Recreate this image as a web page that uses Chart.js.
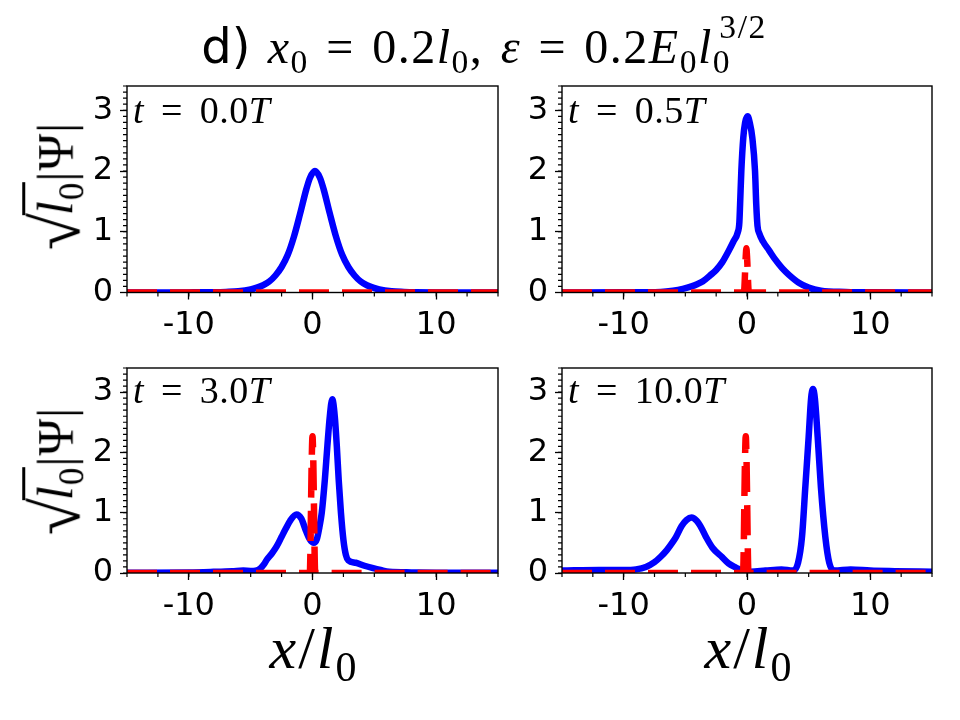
<!DOCTYPE html>
<html>
<head>
<meta charset="utf-8">
<script src="https://cdn.jsdelivr.net/npm/chart.js@4.4.0/dist/chart.umd.min.js"></script>
<style>
body { margin: 0; background: #fff; }
#wrap { position: relative; width: 960px; height: 720px; overflow: hidden; background: #fff; }
#wrap canvas { position: absolute; left: 0; top: 0; }
.m { position: absolute; font-family: "Liberation Serif", serif; color: #000; white-space: nowrap; line-height: 1; }
.m i { font-style: italic; }
.m sub, .m sup { font-size: 0.7em; vertical-align: baseline; position: relative; line-height: 0; }
.m sub { top: 0.3em; }
.m sup { top: -0.75em; }
.sf { font-family: "DejaVu Sans", sans-serif; letter-spacing: 0; }
#title { left: 0; width: 968px; text-align: center; top: 22px; font-size: 48px; letter-spacing: 1.5px; word-spacing: 0.08em; }
.ann { font-size: 38px; letter-spacing: 0.5px; word-spacing: 0.18em; }
.xlab { font-size: 60px; letter-spacing: 2px; transform: translateX(-50%); top: 618px; }
.ylab { font-size: 50px; letter-spacing: 1px; transform: translate(-50%, -50%) rotate(-90deg); }
.rad { font-size: 1.35em; position: relative; top: 0.1em; letter-spacing: 0; }
.ov { border-top: 3px solid #000; padding-top: 2px; margin-left: -2px; }
</style>
</head>
<body>
<div id="wrap">
  <canvas id="c0" width="960" height="720"></canvas>
  <canvas id="c1" width="960" height="720"></canvas>
  <canvas id="c2" width="960" height="720"></canvas>
  <canvas id="c3" width="960" height="720"></canvas>

  <div id="title" class="m"><span class="sf">d)</span> <i>x</i><sub>0</sub> = 0.2<i>l</i><sub>0</sub>, <i>ε</i> = 0.2<i>E</i><sub>0</sub><i>l</i><sub>0</sub><sup style="margin-left:-0.35em">3/2</sup></div>

  <div class="m ann" style="left:133px; top:91px"><i>t</i> = 0.0<i>T</i></div>
  <div class="m ann" style="left:568px; top:91px"><i>t</i> = 0.5<i>T</i></div>
  <div class="m ann" style="left:133px; top:371px"><i>t</i> = 3.0<i>T</i></div>
  <div class="m ann" style="left:568px; top:371px"><i>t</i> = 10.0<i>T</i></div>

  <div class="m ylab" style="left:50px; top:186px"><span class="rad">√</span><span class="ov"><i>l</i><sub>0</sub></span>|Ψ|</div>
  <div class="m ylab" style="left:50px; top:471px"><span class="rad">√</span><span class="ov"><i>l</i><sub>0</sub></span>|Ψ|</div>

  <div class="m xlab" style="left:314px"><i>x</i>/<i>l</i><sub>0</sub></div>
  <div class="m xlab" style="left:749px"><i>x</i>/<i>l</i><sub>0</sub></div>
</div>

<script>
// axis setup
const xMin = -15, xMax = 15;
const yMin = 0, yMax = 3.4;
const xMajor = [-10, 0, 10];
const yMajor = [0, 1, 2, 3];
const xMinorStep = 2.5;
const yMinorStep = 0.1;

// t = 0.0T
const xBlue0 = [-15, -10, -8, -7, -6, -5, -4.5, -4, -3.5, -3, -2.5, -2, -1.5, -1, -0.5, -0.2, 0.2, 0.6, 0.9, 1.4, 1.9, 2.4, 2.9, 3.4, 3.9, 4.4, 4.9, 5.4, 6.4, 7.4, 8.4, 10, 15];
const yBlue0 = [0, 0.002, 0.005, 0.01, 0.02, 0.05, 0.08, 0.12, 0.18, 0.28, 0.42, 0.62, 0.92, 1.30, 1.70, 1.89, 2.0, 1.89, 1.70, 1.30, 0.92, 0.62, 0.42, 0.28, 0.18, 0.12, 0.08, 0.05, 0.02, 0.01, 0.005, 0.002, 0];
const xRed0 = [-15, 15];
const yRed0 = [0, 0];

// t = 0.5T
const xBlue1 = [-15, -10, -7, -6, -5.2, -4.5, -4, -3.6, -3, -2.5, -2, -1.5, -1.1, -0.75, -0.62, -0.56, -0.46, -0.3, -0.15, 0.05, 0.22, 0.43, 0.65, 0.75, 0.85, 1.0, 1.3, 1.8, 2.3, 2.85, 3.4, 4.2, 5, 6, 8, 10, 15];
const yBlue1 = [0, 0.003, 0.01, 0.03, 0.06, 0.1, 0.14, 0.18, 0.28, 0.37, 0.5, 0.68, 0.84, 0.99, 1.15, 1.45, 2.0, 2.55, 2.8, 2.9, 2.8, 2.55, 2.0, 1.45, 1.1, 0.97, 0.84, 0.69, 0.54, 0.4, 0.29, 0.16, 0.08, 0.03, 0.01, 0.003, 0];
const xRed1 = [-15, -0.25, -0.1, -0.05, 0, 0.15, 15];
const yRed1 = [0, 0, 0.6, 0.73, 0.6, 0, 0];

// t = 3.0T
const xBlue2 = [-15, -10, -8, -6.5, -5.6, -5, -4.6, -4.2, -3.9, -3.7, -3.3, -2.9, -2.5, -2.2, -1.8, -1.3, -0.9, -0.55, -0.2, 0.1, 0.35, 0.55, 0.75, 1.0, 1.2, 1.4, 1.6, 1.8, 1.97, 2.12, 2.3, 2.5, 2.7, 2.9, 3.5, 4.2, 4.9, 5.5, 6.2, 8, 10, 15];
const yBlue2 = [0.005, 0.01, 0.02, 0.03, 0.04, 0.035, 0.04, 0.08, 0.15, 0.22, 0.32, 0.44, 0.6, 0.72, 0.87, 0.97, 0.9, 0.71, 0.55, 0.5, 0.56, 0.75, 1.0, 1.55, 2.1, 2.6, 2.88, 2.6, 2.09, 1.54, 1.0, 0.55, 0.3, 0.21, 0.17, 0.12, 0.08, 0.05, 0.02, 0.01, 0.005, 0.003];
const xRed2 = [-15, -0.22, -0.06, 0, 0.06, 0.22, 15];
const yRed2 = [0, 0, 1.9, 2.27, 1.9, 0, 0];

// t = 10.0T
const xBlue3 = [-15, -12, -10, -9, -8.2, -7.5, -7, -6.5, -6, -5.75, -5.3, -4.9, -4.5, -4.1, -3.7, -3.33, -2.8, -2, -1.5, -0.9, -0.3, 0.3, 1.5, 2.8, 3.7, 4.14, 4.46, 4.73, 5.0, 5.2, 5.35, 5.5, 5.73, 5.99, 6.35, 6.67, 7.1, 8.4, 10, 12, 15];
const yBlue3 = [0.04, 0.05, 0.05, 0.06, 0.1, 0.18, 0.27, 0.38, 0.52, 0.6, 0.78, 0.88, 0.92, 0.87, 0.75, 0.6, 0.42, 0.26, 0.16, 0.09, 0.03, 0.02, 0.04, 0.06, 0.04, 0.17, 0.6, 1.43, 2.26, 2.9, 3.05, 2.9, 2.26, 1.43, 0.6, 0.17, 0.04, 0.06, 0.04, 0.03, 0.02];
const xRed3 = [-15, -0.32, -0.16, -0.1, -0.04, 0.12, 15];
const yRed3 = [0, 0, 1.9, 2.27, 1.9, 0, 0];

// plot boxes in page pixels
const boxes = [
    { left: 127, top: 86, right: 498, bottom: 292.5 },
    { left: 562, top: 86, right: 932, bottom: 292.5 },
    { left: 127, top: 368, right: 498, bottom: 573 },
    { left: 562, top: 368, right: 932, bottom: 573 }
];

function pts(xs, ys) {
    return xs.map((x, i) => ({ x: x, y: ys[i] }));
}

function minorTicks(lo, hi, step) {
    const out = [];
    for (let v = lo; v <= hi + 1e-9; v += step) out.push(v);
    return out;
}

const xMinor = minorTicks(xMin, xMax, xMinorStep);
const yMinor = minorTicks(yMin, yMax, yMinorStep);

// frame + minor ticks on top of the lines, like matplotlib spines
const framePlugin = {
    id: 'frame',
    afterDatasetsDraw(chart) {
        const { ctx, chartArea: a, scales } = chart;
        ctx.save();
        ctx.strokeStyle = '#000';
        ctx.lineWidth = 1.2;
        ctx.beginPath();
        xMinor.forEach(v => {
            const p = scales.x.getPixelForValue(v);
            ctx.moveTo(p, a.bottom);
            ctx.lineTo(p, a.bottom + 4);
        });
        yMinor.forEach(v => {
            const p = scales.y.getPixelForValue(v);
            ctx.moveTo(a.left, p);
            ctx.lineTo(a.left - 4, p);
        });
        ctx.stroke();
        ctx.lineWidth = 1.4;
        ctx.strokeRect(a.left, a.top, a.right - a.left, a.bottom - a.top);
        ctx.restore();
    }
};

const tickFont = { family: 'DejaVu Sans', size: 32 };

function makePanel(id, box, blue, red) {
    new Chart(document.getElementById(id), {
        type: 'line',
        data: {
            datasets: [
                {
                    data: red,
                    borderColor: '#ff0000',
                    borderWidth: 6.5,
                    borderDash: [30, 13],
                    borderCapStyle: 'butt',
                    borderJoinStyle: 'round',
                    pointRadius: 0,
                    cubicInterpolationMode: 'monotone',
                    clip: 0,
                    order: 0
                },
                {
                    data: blue,
                    borderColor: '#0000ff',
                    borderWidth: 6.5,
                    borderCapStyle: 'round',
                    borderJoinStyle: 'round',
                    pointRadius: 0,
                    cubicInterpolationMode: 'monotone',
                    clip: 0,
                    order: 1
                }
            ]
        },
        options: {
            responsive: false,
            animation: false,
            layout: {
                padding: {
                    left: box.left - 50,
                    top: box.top,
                    right: 960 - box.right,
                    bottom: 720 - box.bottom - 50
                }
            },
            plugins: {
                legend: { display: false },
                tooltip: { enabled: false }
            },
            scales: {
                x: {
                    type: 'linear',
                    min: xMin,
                    max: xMax,
                    afterBuildTicks: s => { s.ticks = xMajor.map(v => ({ value: v })); },
                    afterFit: s => { s.height = 50; },
                    grid: { drawOnChartArea: false, tickLength: 7, color: '#000', tickWidth: 1.3 },
                    border: { display: false },
                    ticks: { font: tickFont, color: '#000', padding: 7, maxRotation: 0 }
                },
                y: {
                    type: 'linear',
                    min: yMin,
                    max: yMax,
                    afterBuildTicks: s => { s.ticks = yMajor.map(v => ({ value: v })); },
                    afterFit: s => { s.width = 50; },
                    grid: { drawOnChartArea: false, tickLength: 7, color: '#000', tickWidth: 1.3 },
                    border: { display: false },
                    ticks: { font: tickFont, color: '#000', padding: 7 }
                }
            }
        },
        plugins: [framePlugin]
    });
}

makePanel('c0', boxes[0], pts(xBlue0, yBlue0), pts(xRed0, yRed0));
makePanel('c1', boxes[1], pts(xBlue1, yBlue1), pts(xRed1, yRed1));
makePanel('c2', boxes[2], pts(xBlue2, yBlue2), pts(xRed2, yRed2));
makePanel('c3', boxes[3], pts(xBlue3, yBlue3), pts(xRed3, yRed3));
</script>
</body>
</html>
